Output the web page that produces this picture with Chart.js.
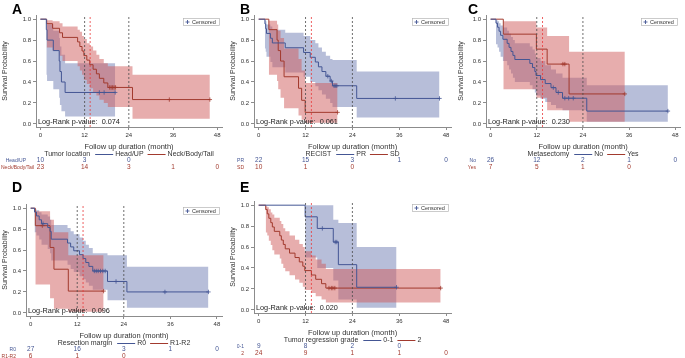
<!DOCTYPE html>
<html>
<head>
<meta charset="utf-8">
<script src="https://cdn.jsdelivr.net/npm/chart.js@4.4.1/dist/chart.umd.min.js"></script>
<style>
  body { margin: 0; background: #fff; width: 685px; height: 358px; position: relative; overflow: hidden; }
  canvas { position: absolute; }
</style>
</head>
<body>
<script>
// shared axes
const xTicks = [0, 12, 24, 36, 48];
const yTicks = [0, 0.2, 0.4, 0.6, 0.8, 1.0];
const riskTimes = [0, 12, 24, 36, 48];
const landmarkMonths = [12, 24];
const medianFollowUp = 13.5;

// A - tumor location
const aLegendTitle = 'Tumor location';
const aNames = ['Head/UP', 'Neck/Body/Tail'];
const aPValue = '0.074';
const aHeadTime = [1.6, 1.8, 3.5, 5.1, 5.3, 5.7, 6.7, 20.3];
const aHeadSurv = [0.9, 0.8, 0.7, 0.6, 0.5, 0.4, 0.3, 0.3];
const aHeadLo = [0.47, 0.41, 0.33, 0.25, 0.18, 0.12, 0.07, 0.07];
const aHeadHi = [0.98, 0.95, 0.89, 0.82, 0.74, 0.66, 0.58, 0.58];
const aHeadCens = [16.0, 17.3, 20.3];
const aHeadRisk = [10, 3, 0];
const aNeckTime = [1.7, 3.3, 5.2, 6.0, 10.1, 10.7, 11.3, 11.8, 12.6, 13.4, 14.3, 15.2, 16.0, 17.2, 18.3, 25.0, 46.0];
const aNeckSurv = [0.957, 0.913, 0.870, 0.826, 0.783, 0.739, 0.696, 0.652, 0.609, 0.565, 0.522, 0.478, 0.435, 0.391, 0.348, 0.232, 0.232];
const aNeckLo = [0.73, 0.70, 0.65, 0.60, 0.55, 0.51, 0.47, 0.42, 0.38, 0.34, 0.30, 0.27, 0.23, 0.20, 0.16, 0.05, 0.05];
const aNeckHi = [0.99, 0.98, 0.96, 0.93, 0.90, 0.88, 0.84, 0.81, 0.77, 0.74, 0.70, 0.66, 0.62, 0.58, 0.55, 0.47, 0.47];
const aNeckCens = [18.8, 19.2, 19.6, 20.0, 20.4, 35.0, 46.0];
const aNeckRisk = [23, 14, 3, 1, 0];

// B - RECIST
const bLegendTitle = 'RECIST';
const bNames = ['PR', 'SD'];
const bPValue = '0.061';
const bPrTime = [1.6, 1.8, 2.0, 3.0, 3.5, 6.8, 11.5, 13.2, 14.5, 15.3, 16.2, 17.2, 18.3, 18.9, 25.1, 46.3];
const bPrSurv = [0.955, 0.909, 0.864, 0.818, 0.773, 0.727, 0.682, 0.636, 0.591, 0.545, 0.500, 0.455, 0.409, 0.364, 0.243, 0.243];
const bPrLo = [0.72, 0.69, 0.64, 0.59, 0.54, 0.49, 0.45, 0.40, 0.36, 0.32, 0.28, 0.24, 0.20, 0.16, 0.06, 0.06];
const bPrHi = [0.99, 0.98, 0.95, 0.93, 0.90, 0.87, 0.84, 0.80, 0.77, 0.73, 0.69, 0.65, 0.62, 0.61, 0.50, 0.50];
const bPrCens = [17.7, 18.6, 19.3, 19.6, 20.0, 35.0, 46.3];
const bPrRisk = [22, 15, 3, 1, 0];
const bSdTime = [2.6, 4.7, 5.0, 5.6, 6.5, 10.2, 11.0, 11.9, 20.2];
const bSdSurv = [0.9, 0.8, 0.7, 0.6, 0.45, 0.34, 0.225, 0.11, 0.11];
const bSdLo = [0.47, 0.41, 0.33, 0.25, 0.15, 0.08, 0.04, 0.01, 0.01];
const bSdHi = [0.985, 0.95, 0.89, 0.82, 0.72, 0.62, 0.51, 0.39, 0.39];
const bSdCens = [20.2];
const bSdRisk = [10, 1, 0];

// C - metasectomy
const cLegendTitle = 'Metasectomy';
const cNames = ['No', 'Yes'];
const cPValue = '0.230';
const cNoTime = [1.4, 1.8, 2.2, 2.6, 3.2, 4.3, 4.8, 5.3, 5.8, 6.3, 10.2, 10.9, 11.5, 11.8, 13.0, 14.2, 15.7, 17.0, 18.7, 25.0, 46.1];
const cNoSurv = [0.962, 0.923, 0.885, 0.846, 0.808, 0.769, 0.731, 0.692, 0.654, 0.615, 0.577, 0.538, 0.500, 0.462, 0.423, 0.385, 0.346, 0.300, 0.245, 0.122, 0.122];
const cNoLo = [0.76, 0.73, 0.69, 0.64, 0.60, 0.56, 0.52, 0.48, 0.44, 0.40, 0.37, 0.33, 0.30, 0.27, 0.24, 0.21, 0.18, 0.15, 0.13, 0.02, 0.02];
const cNoHi = [0.99, 0.98, 0.96, 0.94, 0.92, 0.89, 0.86, 0.83, 0.80, 0.77, 0.74, 0.71, 0.67, 0.63, 0.60, 0.56, 0.52, 0.48, 0.44, 0.37, 0.37];
const cNoCens = [16.3, 17.6, 19.3, 20.3, 21.5, 46.1];
const cNoRisk = [26, 12, 2, 1, 0];
const cYesTime = [3.3, 11.9, 14.7, 20.4, 34.9];
const cYesSurv = [0.857, 0.714, 0.571, 0.286, 0.286];
const cYesLo = [0.33, 0.25, 0.13, 0.02, 0.02];
const cYesHi = [0.98, 0.92, 0.84, 0.69, 0.69];
const cYesCens = [18.8, 19.3, 34.9];
const cYesRisk = [7, 5, 1, 0];

// D - resection margin
const dLegendTitle = 'Resection margin';
const dNames = ['R0', 'R1-R2'];
const dPValue = '0.096';
const dR0Time = [1.0, 1.5, 2.2, 2.8, 4.4, 5.0, 5.3, 9.5, 10.3, 11.1, 12.6, 13.5, 14.2, 15.0, 16.0, 19.8, 24.8, 45.8];
const dR0Surv = [0.963, 0.926, 0.889, 0.852, 0.815, 0.778, 0.704, 0.667, 0.630, 0.593, 0.556, 0.519, 0.481, 0.444, 0.40, 0.30, 0.20, 0.20];
const dR0Lo = [0.77, 0.74, 0.70, 0.65, 0.61, 0.57, 0.50, 0.46, 0.42, 0.39, 0.35, 0.32, 0.29, 0.26, 0.22, 0.12, 0.05, 0.05];
const dR0Hi = [0.99, 0.98, 0.96, 0.94, 0.92, 0.89, 0.84, 0.81, 0.78, 0.75, 0.72, 0.69, 0.65, 0.62, 0.57, 0.55, 0.44, 0.44];
const dR0Cens = [3.2, 16.4, 16.9, 17.4, 18.0, 18.6, 19.2, 22.0, 34.6, 45.8];
const dR0Risk = [27, 16, 3, 1, 0];
const dR1Time = [1.2, 5.0, 6.0, 9.7, 18.8];
const dR1Surv = [0.833, 0.625, 0.417, 0.208, 0.208];
const dR1Lo = [0.27, 0.14, 0.04, 0.01, 0.01];
const dR1Hi = [0.97, 0.89, 0.77, 0.55, 0.55];
const dR1Cens = [3.0, 18.8];
const dR1Risk = [6, 1, 0];

// E - tumor regression grade
const eLegendTitle = 'Tumor regression grade';
const eNames = ['0-1', '2'];
const ePValue = '0.020';
const eLowTime = [11.9, 15.0, 19.1, 20.4, 25.1, 35.3];
const eLowSurv = [0.889, 0.778, 0.648, 0.432, 0.216, 0.216];
const eLowLo = [0.50, 0.40, 0.28, 0.10, 0.02, 0.02];
const eLowHi = [1.0, 1.0, 0.86, 0.83, 0.60, 0.60];
const eLowCens = [16.3, 19.6, 20.0, 35.3];
const eLowRisk = [9, 8, 2, 0];
const eHighTime = [1.8, 2.2, 2.6, 3.1, 3.5, 4.0, 5.4, 5.8, 6.3, 6.8, 7.9, 9.3, 10.4, 11.3, 11.8, 13.5, 14.6, 16.1, 17.2, 46.6];
const eHighSurv = [0.958, 0.917, 0.875, 0.833, 0.792, 0.750, 0.708, 0.667, 0.625, 0.583, 0.542, 0.500, 0.458, 0.417, 0.375, 0.333, 0.292, 0.250, 0.208, 0.208];
const eHighLo = [0.74, 0.71, 0.66, 0.62, 0.57, 0.53, 0.49, 0.44, 0.40, 0.37, 0.33, 0.29, 0.26, 0.22, 0.19, 0.16, 0.13, 0.10, 0.07, 0.07];
const eHighHi = [0.99, 0.98, 0.96, 0.93, 0.91, 0.88, 0.85, 0.82, 0.78, 0.75, 0.71, 0.67, 0.63, 0.60, 0.56, 0.52, 0.48, 0.44, 0.39, 0.39];
const eHighCens = [18.0, 18.6, 19.0, 19.5, 46.6];
const eHighRisk = [24, 9, 1, 1, 0];

const FONT = '"Liberation Sans", Arial, sans-serif';
const TEXT = '#333';
const AXIS = '#8c8c8c';
const style = [
  { line: '#445694', band: 'rgba(111,126,179,0.5)' },
  { line: '#A23A2E', band: 'rgba(208,91,91,0.5)' }
];

const panels = [
  { letter: 'A', title: aLegendTitle, names: aNames, p: aPValue,
    groups: [[aHeadTime, aHeadSurv, aHeadLo, aHeadHi, aHeadCens, aHeadRisk],
             [aNeckTime, aNeckSurv, aNeckLo, aNeckHi, aNeckCens, aNeckRisk]],
    box: { left: 0, top: 0, w: 228, h: 178, yW: 36, padT: 15, padB: 27, padR: 6 } },
  { letter: 'B', title: bLegendTitle, names: bNames, p: bPValue,
    groups: [[bPrTime, bPrSurv, bPrLo, bPrHi, bPrCens, bPrRisk],
             [bSdTime, bSdSurv, bSdLo, bSdHi, bSdCens, bSdRisk]],
    box: { left: 228, top: 0, w: 228, h: 178, yW: 26, padT: 15, padB: 27, padR: 3 } },
  { letter: 'C', title: cLegendTitle, names: cNames, p: cPValue,
    groups: [[cNoTime, cNoSurv, cNoLo, cNoHi, cNoCens, cNoRisk],
             [cYesTime, cYesSurv, cYesLo, cYesHi, cYesCens, cYesRisk]],
    box: { left: 456, top: 0, w: 229, h: 178, yW: 30, padT: 15, padB: 27, padR: 0 } },
  { letter: 'D', title: dLegendTitle, names: dNames, p: dPValue,
    groups: [[dR0Time, dR0Surv, dR0Lo, dR0Hi, dR0Cens, dR0Risk],
             [dR1Time, dR1Surv, dR1Lo, dR1Hi, dR1Cens, dR1Risk]],
    box: { left: 0, top: 178, w: 228, h: 180, yW: 26, padT: 26, padB: 18, padR: 6 } },
  { letter: 'E', title: eLegendTitle, names: eNames, p: ePValue,
    groups: [[eLowTime, eLowSurv, eLowLo, eLowHi, eLowCens, eLowRisk],
             [eHighTime, eHighSurv, eHighLo, eHighHi, eHighCens, eHighRisk]],
    box: { left: 228, top: 178, w: 228, h: 180, yW: 26, padT: 23, padB: 21, padR: 4 } }
];

const Y_MIN = -0.03, Y_MAX = 1.04;

function survAt(time, surv, t) {
  let s = 1;
  for (let i = 0; i < time.length; i++) if (time[i] <= t) s = surv[i];
  return s;
}

// legend, p-value, risk table and panel letter
const kmDecor = {
  id: 'kmDecor',
  afterDraw(chart, args, o) {
    const { ctx, chartArea: a } = chart;
    const xs = chart.scales.x;
    ctx.save();
    ctx.textBaseline = 'middle';

    ctx.fillStyle = '#000';
    ctx.font = 'bold 14px ' + FONT;
    ctx.textAlign = 'left';
    ctx.fillText(o.letter, 12, 10);

    // censored key
    ctx.font = '5.5px ' + FONT;
    const cw = ctx.measureText('Censored').width;
    const bw = cw + 12, bh = 7;
    const bx = Math.round(a.right - 3 - bw), by = Math.round(a.top + 3);
    ctx.strokeStyle = '#b5b5b5';
    ctx.lineWidth = 0.7;
    ctx.strokeRect(bx + 0.5, by + 0.5, bw, bh);
    ctx.strokeStyle = style[0].line;
    ctx.lineWidth = 0.9;
    ctx.beginPath();
    ctx.moveTo(bx + 2.5, by + 4); ctx.lineTo(bx + 6.5, by + 4);
    ctx.moveTo(bx + 4.5, by + 2); ctx.lineTo(bx + 4.5, by + 6);
    ctx.stroke();
    ctx.fillStyle = TEXT;
    ctx.fillText('Censored', bx + 9, by + 4.2);

    // log-rank
    ctx.font = '7.3px ' + FONT;
    ctx.fillStyle = '#222';
    const lab = 'Log-Rank p-value:';
    ctx.fillText(lab, a.left + 2, a.bottom - 5);
    ctx.fillText(o.p, a.left + 2 + ctx.measureText(lab).width + 4, a.bottom - 5);

    // group legend
    ctx.font = '7px ' + FONT;
    const ly = a.bottom + 27;
    const wT = ctx.measureText(o.title).width;
    const w1 = ctx.measureText(o.names[0]).width;
    const w2 = ctx.measureText(o.names[1]).width;
    const segL = 18;
    const total = wT + 5 + segL + 2 + w1 + 4 + segL + 2 + w2;
    let cx = (a.left + a.right) / 2 - total / 2;
    ctx.fillStyle = TEXT;
    ctx.fillText(o.title, cx, ly);
    cx += wT + 5;
    [0, 1].forEach(g => {
      ctx.strokeStyle = style[g].line;
      ctx.lineWidth = 1;
      ctx.beginPath();
      ctx.moveTo(cx, ly + 0.5); ctx.lineTo(cx + segL, ly + 0.5);
      ctx.stroke();
      cx += segL + 2;
      ctx.fillStyle = TEXT;
      ctx.fillText(o.names[g], cx, ly);
      cx += (g === 0 ? w1 : w2) + 4;
    });

    // numbers at risk
    o.risks.forEach((row, g) => {
      const ry = a.bottom + 33.5 + g * 7;
      ctx.fillStyle = style[g].line;
      ctx.font = '5px ' + FONT;
      ctx.textAlign = 'right';
      const nw = ctx.measureText(o.names[g]).width;
      ctx.fillText(o.names[g], Math.max(a.left - 10, nw + 1), ry);
      ctx.font = '6.5px ' + FONT;
      ctx.textAlign = 'center';
      row.forEach((v, i) => ctx.fillText(String(v), xs.getPixelForValue(riskTimes[i]), ry));
    });
    ctx.restore();
  }
};

Chart.defaults.font.family = FONT;

panels.forEach(pn => {
  const b = pn.box;
  const cv = document.createElement('canvas');
  cv.width = b.w; cv.height = b.h;
  cv.style.left = b.left + 'px'; cv.style.top = b.top + 'px';
  document.body.appendChild(cv);

  const datasets = [];
  landmarkMonths.forEach(m => datasets.push({
    data: [{ x: m, y: Y_MIN }, { x: m, y: Y_MAX }],
    borderColor: '#4a4a4a', borderWidth: 0.8, borderDash: [2, 2], pointRadius: 0, order: 0
  }));
  datasets.push({
    data: [{ x: medianFollowUp, y: Y_MIN }, { x: medianFollowUp, y: Y_MAX }],
    borderColor: '#e8393a', borderWidth: 0.8, borderDash: [2, 2], pointRadius: 0, order: 0
  });

  pn.groups.forEach(([time, surv, lo, hi, cens], g) => {
    const st = style[g];
    datasets.push({
      data: [{ x: 0, y: 1 }].concat(time.map((t, i) => ({ x: t, y: surv[i] }))),
      stepped: true, borderColor: st.line, borderWidth: 1, pointRadius: 0, order: 1
    });
    datasets.push({
      data: cens.map(t => ({ x: t, y: survAt(time, surv, t) })),
      showLine: false, pointStyle: 'cross', pointRadius: 2.2, pointBorderWidth: 0.8,
      borderColor: st.line, backgroundColor: st.line, order: 1
    });
    datasets.push({
      data: time.map((t, i) => ({ x: t, y: hi[i] })),
      stepped: true, borderWidth: 0, pointRadius: 0, backgroundColor: st.band,
      fill: '+1', order: 3 - g
    });
    datasets.push({
      data: time.map((t, i) => ({ x: t, y: lo[i] })),
      stepped: true, borderWidth: 0, pointRadius: 0, fill: false, order: 3 - g
    });
  });

  new Chart(cv, {
    type: 'line',
    data: { datasets },
    options: {
      responsive: false,
      animation: false,
      events: [],
      layout: { padding: { left: 0, top: b.padT, right: b.padR, bottom: b.padB } },
      plugins: {
        legend: { display: false },
        tooltip: { enabled: false },
        kmDecor: { letter: pn.letter, title: pn.title, names: pn.names, p: pn.p,
                   risks: pn.groups.map(gr => gr[5]) }
      },
      scales: {
        x: {
          type: 'linear', min: -1.2, max: 49.3,
          afterBuildTicks: s => { s.ticks = xTicks.map(v => ({ value: v })); },
          afterFit: s => { s.height = 24; },
          grid: { drawOnChartArea: false, drawTicks: true, tickLength: 3, color: AXIS },
          border: { color: AXIS, width: 1 },
          ticks: { font: { size: 6 }, color: TEXT, padding: 2, maxRotation: 0, autoSkip: false },
          title: { display: true, text: 'Follow up duration (month)', font: { size: 7.5 }, color: TEXT,
                   padding: { top: 0, bottom: 0 } }
        },
        y: {
          type: 'linear', min: Y_MIN, max: Y_MAX,
          afterBuildTicks: s => { s.ticks = yTicks.map(v => ({ value: v })); },
          afterFit: s => { s.width = b.yW; },
          grid: { drawOnChartArea: false, drawTicks: true, tickLength: 3, color: AXIS },
          border: { color: AXIS, width: 1 },
          ticks: { font: { size: 6 }, color: TEXT, padding: 2, callback: v => v.toFixed(1) },
          title: { display: true, text: 'Survival Probability', font: { size: 7 }, color: TEXT,
                   padding: { top: 1, bottom: 1 } }
        }
      }
    },
    plugins: [kmDecor]
  });
});
</script>
</body>
</html>
